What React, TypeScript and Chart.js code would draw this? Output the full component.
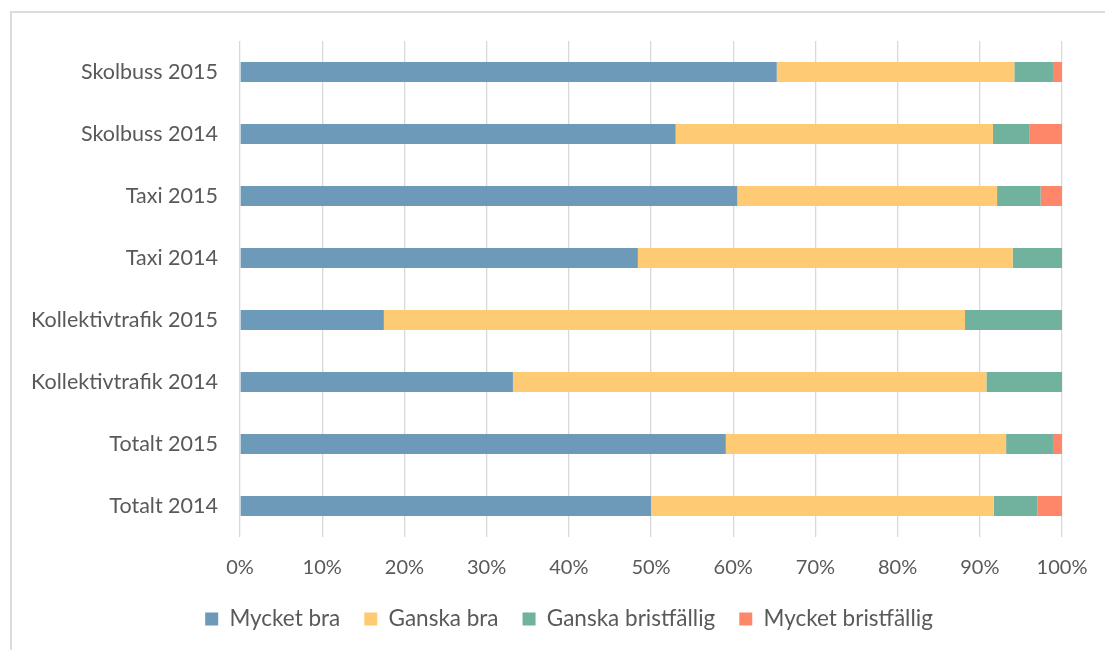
import React, { useEffect, useRef } from "react";
import { Chart, registerables } from "chart.js";

Chart.register(...registerables);

const categories = [
  "Skolbuss 2015",
  "Skolbuss 2014",
  "Taxi 2015",
  "Taxi 2014",
  "Kollektivtrafik 2015",
  "Kollektivtrafik 2014",
  "Totalt 2015",
  "Totalt 2014",
];

const mycketBra = [65.3, 53.0, 60.5, 48.4, 17.5, 33.2, 59.1, 50.0];
const ganskaBra = [28.9, 38.6, 31.6, 45.6, 70.7, 57.6, 34.1, 41.7];
const ganskaBristfallig = [4.7, 4.4, 5.3, 6.0, 11.8, 9.2, 5.7, 5.3];
const mycketBristfallig = [1.1, 4.0, 2.6, 0, 0, 0, 1.1, 3.0];

const seriesNames = ["Mycket bra", "Ganska bra", "Ganska bristfällig", "Mycket bristfällig"];
const seriesColors = ["#6D9AB9", "#FECB74", "#71B29F", "#FF8769"];

const FONT = "Lato, 'Open Sans', sans-serif";
const TEXT = "#595959";

// shifts the legend so that it is centred like the original chart frame
const legendShift = {
  id: "legendShift",
  afterLayout(chart: any) {
    if (chart.legend) {
      chart.legend.left = 65;
    }
  },
};

export default function App() {
  const ref = useRef<HTMLCanvasElement | null>(null);

  useEffect(() => {
    if (!ref.current) return;
    const values = [mycketBra, ganskaBra, ganskaBristfallig, mycketBristfallig];
    const chart = new Chart(ref.current, {
      type: "bar",
      data: {
        labels: categories,
        datasets: values.map((v, i) => ({
          label: seriesNames[i],
          data: v,
          backgroundColor: seriesColors[i],
          borderWidth: 0,
          categoryPercentage: 1,
          barPercentage: 20 / 62,
        })),
      },
      options: {
        indexAxis: "y",
        animation: false,
        responsive: false,
        maintainAspectRatio: false,
        layout: { padding: { top: 29, left: 0, right: 65, bottom: 11.75 } },
        scales: {
          x: {
            stacked: true,
            min: 0,
            max: 100,
            ticks: {
              stepSize: 10,
              color: TEXT,
              font: { family: FONT, size: 20 },
              padding: 19,
              maxRotation: 0,
              callback: (v: any) => v + "%",
            },
            grid: { color: "#d9d9d9", lineWidth: 1.3, drawTicks: false },
            border: { display: false },
            afterFit: (s: any) => {
              s.height = 46.75;
            },
          },
          y: {
            stacked: true,
            ticks: {
              color: TEXT,
              font: { family: FONT, size: 21.5 },
              padding: 0,
            },
            grid: {
              display: true,
              drawOnChartArea: false,
              drawTicks: true,
              tickLength: 22,
              tickColor: "rgba(0,0,0,0)",
            },
            border: { display: false },
            afterFit: (s: any) => {
              s.width = 229;
            },
          },
        },
        plugins: {
          legend: {
            position: "bottom",
            labels: {
              boxWidth: 13,
              boxHeight: 13,
              padding: 24,
              color: TEXT,
              font: { family: FONT, size: 22.5 },
            },
          },
          tooltip: { enabled: false },
        },
      },
      plugins: [legendShift],
    });
    return () => chart.destroy();
  }, []);

  return (
    <div
      style={{
        position: "fixed",
        left: 0,
        top: 0,
        width: 1105,
        height: 650,
        overflow: "hidden",
        background: "#fff",
      }}
    >
      <div
        style={{
          position: "absolute",
          left: 10,
          top: 11,
          width: 1130,
          height: 680,
          border: "2px solid #dcdcdc",
          boxSizing: "border-box",
        }}
      />
      <canvas
        ref={ref}
        width={1116}
        height={640}
        style={{ position: "absolute", left: 11, top: 12, width: 1116, height: 640 }}
      />
    </div>
  );
}
